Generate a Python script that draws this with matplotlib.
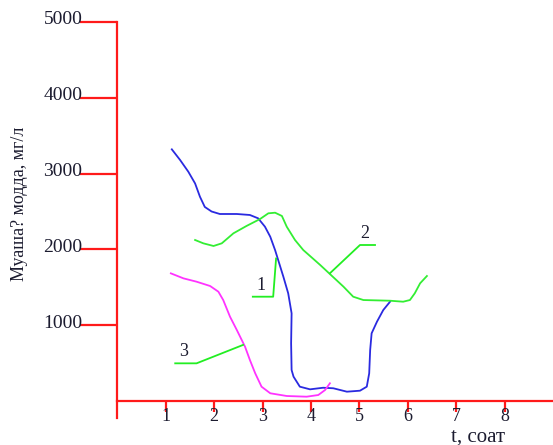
import matplotlib.pyplot as plt
import matplotlib.transforms as mtransforms

# кривая 1 (синяя)
t1 = [1.13, 1.30, 1.47, 1.61, 1.71, 1.81, 1.95, 2.12, 2.47, 2.74, 2.91, 3.05,
      3.16, 3.26, 3.43, 3.53, 3.60, 3.59, 3.60, 3.64, 3.77, 3.98, 4.25, 4.46,
      4.74, 5.01, 5.15, 5.20, 5.22, 5.25, 5.36, 5.49, 5.63]
c1 = [3320, 3180, 3025, 2870, 2695, 2560, 2500, 2467, 2467, 2454, 2410, 2300,
      2167, 1990, 1640, 1420, 1157, 761, 409, 321, 189, 154, 175, 168,
      123, 136, 189, 365, 673, 893, 1046, 1200, 1310]

# кривая 2 (зелёная)
t2 = [1.61, 1.78, 1.99, 2.16, 2.40, 2.67, 2.95, 3.12, 3.26, 3.40, 3.50, 3.67,
      3.84, 4.19, 4.39, 4.67, 4.87, 5.08, 5.63, 5.90, 6.04, 6.14, 6.25, 6.39]
c2 = [2124, 2080, 2045, 2080, 2212, 2309, 2401, 2476, 2484, 2441, 2299, 2124,
      1992, 1794, 1675, 1508, 1376, 1332, 1323, 1310, 1332, 1421, 1553, 1649]

# кривая 3 (розовая)
t3 = [1.11, 1.37, 1.64, 1.92, 2.09, 2.19, 2.33, 2.47, 2.64, 2.74, 2.85, 2.98,
      3.16, 3.50, 3.91, 4.15, 4.29, 4.39]
c3 = [1684, 1618, 1574, 1517, 1442, 1332, 1112, 937, 716, 541, 365, 189,
      102, 66, 57, 79, 145, 234]

# выноски с номерами кривых
lead1_t = [2.80, 3.22, 3.28]
lead1_c = [1376, 1376, 1880]
lead2_t = [4.39, 5.01, 5.32]
lead2_c = [1685, 2058, 2058]
lead3_t = [1.20, 1.64, 2.60]
lead3_c = [497, 497, 740]
marks = ['1', '2', '3']
marks_t = [2.96, 5.11, 1.37]
marks_c = [1520, 2215, 650]

xticks = [1, 2, 3, 4, 5, 6, 7, 8]
yticks = [1000, 2000, 3000, 4000, 5000]

red = '#ff1a1a'
txt = '#1c1c30'
font = 'Liberation Serif'

fig = plt.figure(figsize=(5.53, 4.45), dpi=100)
ax = fig.add_axes([0.2116, 0.0607, 0.7884, 0.8899])

ax.plot(t1, c1, color='#2a2ae0', lw=1.3, solid_joinstyle='round')
ax.plot(t2, c2, color='#33ee33', lw=1.3, solid_joinstyle='round')
ax.plot(t3, c3, color='#ff33ff', lw=1.3, solid_joinstyle='round')
for lt, lc in [(lead1_t, lead1_c), (lead2_t, lead2_c), (lead3_t, lead3_c)]:
    ax.plot(lt, lc, color='#22ee22', lw=1.3)
for m, mt, mc in zip(marks, marks_t, marks_c):
    ax.text(mt, mc, m, family=font, fontsize=13, color=txt,
            ha='center', va='center')

ax.set_xlim(0, 8.99)
ax.set_ylim(-224, 5000)

for s in ['top', 'right']:
    ax.spines[s].set_visible(False)
ax.spines['bottom'].set_position(('data', 0))
for s in ['left', 'bottom']:
    ax.spines[s].set_color(red)
    ax.spines[s].set_linewidth(1.6)

ax.set_xticks(xticks)
ax.set_yticks(yticks)
ax.set_xticklabels([str(v) for v in xticks])
ax.set_yticklabels([str(v) for v in yticks])
ax.tick_params(axis='x', direction='out', length=8, width=1.6, color=red,
               pad=-3, labelsize=13, labelcolor=txt)
ax.tick_params(axis='y', direction='out', length=27, width=1.6, color=red,
               pad=-2, labelsize=14, labelcolor=txt)
for lab in ax.get_xticklabels() + ax.get_yticklabels():
    lab.set_family(font)
shift = mtransforms.ScaledTranslation(0, 3 / 72, fig.dpi_scale_trans)
for lab in ax.get_yticklabels():
    lab.set_transform(lab.get_transform() + shift)

fig.text(0.036, 0.542, 'Муаша? модда, мг/л', rotation=90, family=font,
         fontsize=13, color=txt, ha='center', va='center')
fig.text(0.864, 0.018, 't, соат', family=font, fontsize=15, color=txt,
         ha='center', va='center')

fig.savefig('out.png', dpi=100)
